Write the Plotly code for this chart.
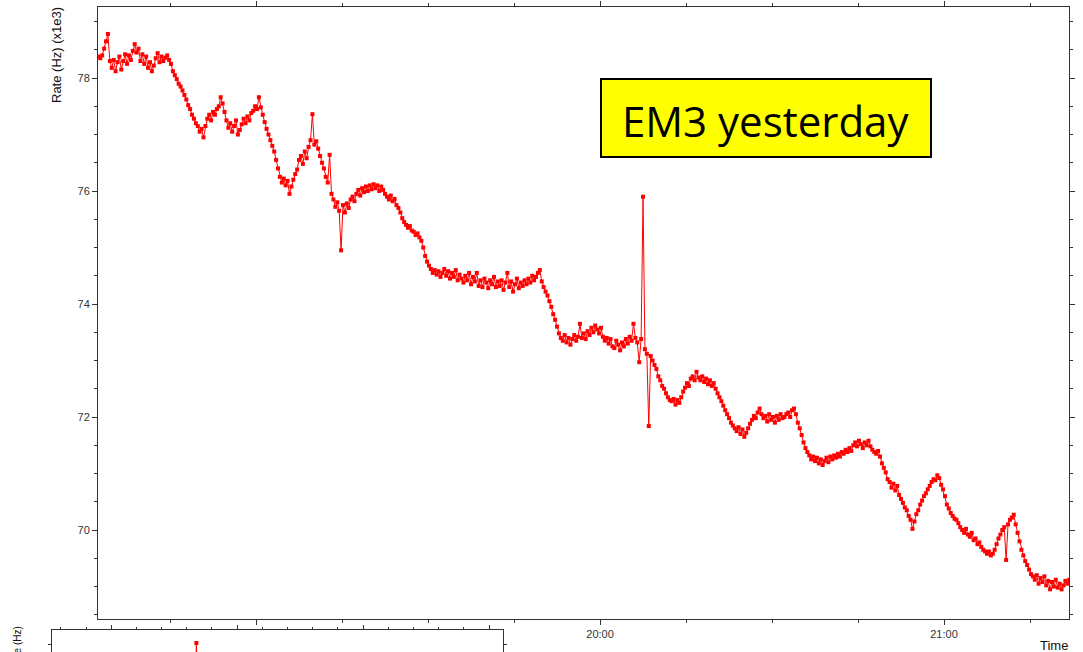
import pandas as pd
import plotly.graph_objects as go

W, H = 1083, 652

# Trigger rate (kHz) sampled every 20 s from 18:32:30
sample_start = "2013-02-14 18:32:30"
sample_step = "20s"
rate_khz = [
    78.38, 78.35, 78.40, 78.52, 78.65, 78.78, 78.30, 78.18, 78.32, 78.12, 78.28, 78.38, 78.15, 78.30, 78.42,
    78.25, 78.40, 78.32, 78.48, 78.60, 78.45, 78.52, 78.30, 78.42, 78.25, 78.38, 78.18, 78.28, 78.12, 78.22,
    78.35, 78.44, 78.28, 78.38, 78.30, 78.36, 78.40, 78.32, 78.25, 78.12, 78.05, 77.98, 77.90, 77.85, 77.78,
    77.70, 77.62, 77.52, 77.45, 77.35, 77.28, 77.20, 77.15, 77.05, 77.10, 76.95, 77.15, 77.28, 77.35, 77.25,
    77.40, 77.35, 77.45, 77.50, 77.66, 77.55, 77.40, 77.25, 77.12, 77.20, 77.05, 77.15, 77.25, 77.00, 77.08,
    77.18, 77.28, 77.20, 77.32, 77.25, 77.38, 77.42, 77.50, 77.45, 77.66, 77.48, 77.35, 77.22, 77.10, 77.00,
    76.90, 76.80, 76.70, 76.55, 76.40, 76.25, 76.15, 76.22, 76.10, 76.18, 75.95, 76.08, 76.20, 76.30, 76.38,
    76.55, 76.62, 76.48, 76.70, 76.58, 76.78, 76.90, 77.36, 76.82, 76.88, 76.75, 76.62, 76.50, 76.40, 76.25,
    76.15, 76.64, 75.95, 75.85, 75.72, 75.80, 75.65, 74.95, 75.75, 75.62, 75.78, 75.70, 75.85, 75.90, 75.82,
    75.95, 76.02, 75.92, 76.05, 75.98, 76.08, 76.00, 76.10, 76.03, 76.12, 76.05, 76.10, 76.00, 76.08, 76.02,
    75.95, 75.90, 75.85, 75.92, 75.82, 75.86, 75.75, 75.70, 75.62, 75.52, 75.45, 75.40, 75.35, 75.38, 75.30,
    75.28, 75.22, 75.25, 75.18, 75.12, 75.00, 74.85, 74.75, 74.68, 74.62, 74.55, 74.60, 74.52, 74.58, 74.48,
    74.55, 74.62, 74.50, 74.58, 74.45, 74.55, 74.48, 74.60, 74.42, 74.52, 74.45, 74.38, 74.50, 74.42, 74.55,
    74.35, 74.48, 74.40, 74.55, 74.32, 74.42, 74.30, 74.45, 74.38, 74.28, 74.42, 74.35, 74.48, 74.30, 74.40,
    74.32, 74.42, 74.25, 74.38, 74.55, 74.30, 74.40, 74.22, 74.35, 74.45, 74.28, 74.38, 74.32, 74.42, 74.35,
    74.45, 74.38, 74.50, 74.42, 74.48, 74.55, 74.60, 74.40, 74.30, 74.22, 74.15, 74.05, 73.95, 73.82, 73.72,
    73.60, 73.48, 73.40, 73.35, 73.45, 73.32, 73.40, 73.28, 73.38, 73.45, 73.35, 73.42, 73.65, 73.40, 73.48,
    73.38, 73.52, 73.45, 73.58, 73.50, 73.62, 73.55, 73.48, 73.58, 73.42, 73.35, 73.40, 73.30, 73.38, 73.25,
    73.22, 73.35, 73.28, 73.18, 73.32, 73.25, 73.38, 73.30, 73.42, 73.35, 73.65, 73.40, 73.32, 72.97, 73.38,
    75.90, 73.20, 73.12, 71.84, 73.08, 73.00, 72.92, 72.85, 72.72, 72.65, 72.55, 72.50, 72.42, 72.35, 72.30,
    72.28, 72.32, 72.22, 72.30, 72.25, 72.35, 72.45, 72.52, 72.60, 72.55, 72.68, 72.72, 72.65, 72.80, 72.70,
    72.65, 72.72, 72.62, 72.68, 72.58, 72.65, 72.55, 72.60, 72.50, 72.42, 72.35, 72.28, 72.20, 72.12, 72.05,
    71.98, 71.90, 71.85, 71.80, 71.75, 71.82, 71.70, 71.78, 71.65, 71.72, 71.80, 71.88, 71.95, 72.02, 71.98,
    72.08, 72.15, 72.05, 71.98, 72.02, 71.92, 72.05, 71.95, 72.00, 71.90, 72.02, 71.95, 72.05, 71.98, 72.00,
    72.05, 72.08, 72.00, 72.12, 72.15, 72.05, 71.90, 71.80, 71.68, 71.55, 71.45, 71.38, 71.32, 71.25, 71.30,
    71.22, 71.28, 71.18, 71.25, 71.15, 71.22, 71.28, 71.20, 71.30, 71.25, 71.32, 71.28, 71.35, 71.30, 71.38,
    71.35, 71.42, 71.38, 71.45, 71.40, 71.50, 71.55, 71.48, 71.58, 71.52, 71.45, 71.55, 71.50, 71.58, 71.48,
    71.42, 71.38, 71.35, 71.40, 71.30, 71.18, 71.10, 71.02, 70.90, 70.85, 70.75, 70.82, 70.70, 70.78, 70.62,
    70.55, 70.48, 70.40, 70.35, 70.25, 70.18, 70.02, 70.15, 70.28, 70.35, 70.45, 70.52, 70.60, 70.65, 70.72,
    70.78, 70.85, 70.90, 70.88, 70.97, 70.92, 70.80, 70.72, 70.60, 70.45, 70.38, 70.30, 70.25, 70.20, 70.18,
    70.12, 70.05, 70.00, 69.95, 70.02, 69.92, 69.88, 69.95, 69.82, 69.85, 69.75, 69.78, 69.70, 69.65, 69.62,
    69.58, 69.62, 69.55, 69.58, 69.65, 69.75, 69.85, 69.92, 70.00, 70.05, 69.47, 70.10, 70.18, 70.22, 70.27,
    70.10, 69.95, 69.80, 69.65, 69.55, 69.45, 69.38, 69.30, 69.22, 69.18, 69.12, 69.20, 69.05, 69.15, 69.08,
    69.18, 69.02, 69.10, 68.95, 69.08, 69.00, 69.12, 68.98, 69.05, 68.95, 69.02, 69.10, 69.05, 69.12, 69.15,
]
sample_times = pd.date_range(sample_start, periods=len(rate_khz), freq=sample_step)

# Main time axis
time_range = ["2013-02-14 18:32:26", "2013-02-14 21:21:48"]
hour_ticks = ["2013-02-14 19:00", "2013-02-14 20:00", "2013-02-14 21:00"]
hour_labels = ["", "20:00", "21:00"]
rate_range = [68.425, 79.257]

# Lower (partially visible) panel
lower_times = ["2013-02-14 17:40:20", "2013-02-14 17:40:35", "2013-02-14 17:40:50"]
lower_rate = [55.0, 73.0, 55.0]
lower_time_range = ["2013-02-14 16:31:48", "2013-02-14 20:06:40"]
lower_rate_range = [64, 86]

AX = "#333333"
FONT = "Liberation Sans, Arial, sans-serif"


def px_x(x):
    return x / W


def px_y(y):
    return 1 - y / H


fig = go.Figure()

fig.add_trace(go.Scatter(
    x=sample_times, y=rate_khz, mode="lines+markers",
    line=dict(color="#ff0000", width=1),
    marker=dict(color="#ff0000", size=4, symbol="square"),
    xaxis="x", yaxis="y", hoverinfo="x+y",
))

fig.add_trace(go.Scatter(
    x=pd.to_datetime(lower_times), y=lower_rate, mode="lines+markers",
    line=dict(color="#ff0000", width=1),
    marker=dict(color="#ff0000", size=4, symbol="square"),
    xaxis="x2", yaxis="y2", hoverinfo="x+y",
))

fig.update_layout(
    width=W, height=H,
    margin=dict(l=0, r=0, t=0, b=0),
    paper_bgcolor="white", plot_bgcolor="white",
    showlegend=False,
    font=dict(family=FONT, size=11, color=AX),
    xaxis=dict(
        domain=[px_x(98), px_x(1069)], type="date", range=time_range,
        tickmode="array", tickvals=hour_ticks, ticktext=hour_labels,
        ticks="outside", ticklen=5, tickcolor=AX, tickwidth=1,
        showline=True, linecolor=AX, linewidth=1, mirror="ticks",
        showgrid=False, zeroline=False,
        tickfont=dict(size=11, color=AX, family=FONT),
        minor=dict(dtick=900000, tick0="2013-02-14 19:00", ticks="outside",
                   ticklen=3, tickcolor=AX, showgrid=False),
        anchor="y",
    ),
    yaxis=dict(
        domain=[px_y(619), px_y(7)], range=rate_range,
        tick0=0, dtick=2,
        ticks="outside", ticklen=5, tickcolor=AX, tickwidth=1,
        showline=True, linecolor=AX, linewidth=1, mirror="ticks",
        showgrid=False, zeroline=False,
        tickfont=dict(size=11, color=AX, family=FONT),
        minor=dict(dtick=0.5, ticks="outside", ticklen=3, tickcolor=AX,
                   showgrid=False),
        anchor="x",
    ),
    xaxis2=dict(
        domain=[px_x(52), px_x(503)], type="date", range=lower_time_range,
        side="top", dtick=3600000, tick0="2013-02-14 17:00",
        ticks="outside", ticklen=4, tickcolor=AX,
        showticklabels=False,
        showline=True, linecolor=AX, linewidth=1, mirror=False,
        showgrid=False, zeroline=False,
        minor=dict(dtick=720000, ticks="outside", ticklen=2, tickcolor=AX,
                   showgrid=False),
        anchor="y2",
    ),
    yaxis2=dict(
        domain=[0, px_y(630)], range=lower_rate_range,
        tickvals=[72], showticklabels=False,
        ticks="outside", ticklen=3, tickcolor=AX,
        showline=True, linecolor=AX, linewidth=1, mirror="ticks",
        showgrid=False, zeroline=False,
        anchor="x2",
    ),
)

# Axis titles
fig.add_annotation(
    text="Rate (Hz) (x1e3)", textangle=-90, showarrow=False,
    xref="paper", yref="paper", x=px_x(57), y=px_y(55),
    xanchor="center", yanchor="middle",
    font=dict(size=13, color="#111111", family=FONT),
)
fig.add_annotation(
    text="Time", showarrow=False,
    xref="paper", yref="paper", x=px_x(1054), y=px_y(645),
    xanchor="center", yanchor="middle",
    font=dict(size=13, color="#111111", family=FONT),
)
fig.add_annotation(
    text="Rate (Hz)", textangle=-90, showarrow=False,
    xref="paper", yref="paper", x=px_x(17), y=px_y(648),
    xanchor="center", yanchor="middle",
    font=dict(size=10, color="#111111", family=FONT),
)

# Highlighted label box
fig.add_shape(
    type="rect", xref="paper", yref="paper",
    x0=px_x(601), x1=px_x(931), y0=px_y(157), y1=px_y(79),
    fillcolor="#ffff00", line=dict(color="black", width=2), layer="above",
)
fig.add_annotation(
    text="EM3 yesterday", showarrow=False,
    xref="paper", yref="paper", x=px_x(765), y=px_y(120),
    xanchor="center", yanchor="middle",
    font=dict(size=42, color="black", family="Open Sans, sans-serif"),
)

fig.write_html("out.html")
